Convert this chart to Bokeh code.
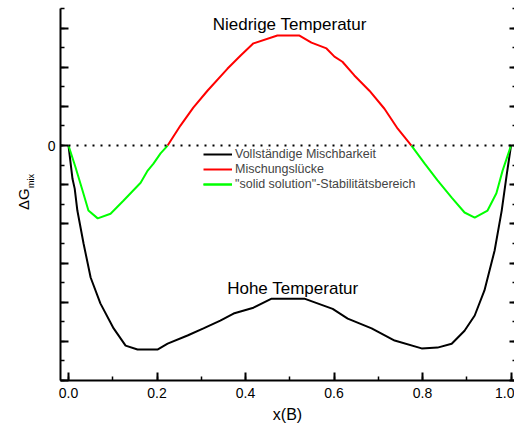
import numpy as np
from bokeh.plotting import figure
from bokeh.layouts import row
from bokeh.models import (Range1d, LinearAxis, FixedTicker, CustomJSTickFormatter,
                          NumeralTickFormatter, Span, Label, Legend, LegendItem, Div)
from bokeh.embed import file_html
from bokeh.resources import INLINE

FONT = "Liberation Sans"

# High temperature: complete miscibility
x_high = [0.000, 0.009, 0.014, 0.020, 0.034, 0.050, 0.072, 0.102, 0.129, 0.156,
          0.201, 0.224, 0.269, 0.305, 0.343, 0.373, 0.418, 0.459, 0.533, 0.597,
          0.631, 0.685, 0.737, 0.798, 0.834, 0.866, 0.895, 0.918, 0.940, 0.963,
          0.979, 0.990, 1.000]
dg_high = [0.00, -0.85, -1.10, -1.66, -2.50, -3.37, -4.03, -4.67, -5.11, -5.21,
           -5.21, -5.06, -4.85, -4.67, -4.47, -4.29, -4.14, -3.91, -3.91, -4.17,
           -4.42, -4.67, -4.98, -5.18, -5.16, -5.06, -4.73, -4.34, -3.70, -2.68,
           -1.66, -0.77, 0.00]

# Low temperature: solid-solution branches (left / right) and miscibility gap
x_ss_left = [0.000, 0.016, 0.032, 0.045, 0.066, 0.095, 0.124, 0.163, 0.179, 0.192,
             0.208, 0.224]
dg_ss_left = [0.00, -0.56, -1.16, -1.66, -1.86, -1.74, -1.41, -0.95, -0.64, -0.46,
              -0.20, 0.00]

x_gap = [0.224, 0.253, 0.282, 0.314, 0.359, 0.389, 0.418, 0.472, 0.522, 0.549,
         0.583, 0.601, 0.619, 0.646, 0.680, 0.714, 0.744, 0.775]
dg_gap = [0.00, 0.51, 0.97, 1.40, 1.96, 2.30, 2.61, 2.81, 2.81, 2.63,
          2.48, 2.27, 2.14, 1.79, 1.40, 0.94, 0.43, 0.00]

x_ss_right = [0.775, 0.805, 0.834, 0.866, 0.895, 0.918, 0.947, 0.967, 0.981, 1.000]
dg_ss_right = [0.00, -0.46, -0.89, -1.33, -1.71, -1.84, -1.66, -1.22, -0.64, 0.00]

x_ticks = [0.0, 0.2, 0.4, 0.6, 0.8, 1.0]
x_minor = [0.0, 0.1, 0.2, 0.3, 0.4, 0.5, 0.6, 0.7, 0.8, 0.9, 1.0]
y_ticks = [-6, -5, -4, -3, -2, -1, 0, 1, 2, 3]
y_minor = list(np.arange(-6.0, 3.51, 0.5))

fig = figure(width=474, height=430, output_backend="svg", toolbar_location=None,
             x_range=Range1d(-0.0181, 1.0079), y_range=Range1d(-6.0, 3.5),
             min_border_left=20, min_border_right=0, min_border_top=8,
             min_border_bottom=50)
fig.grid.visible = False
fig.outline_line_color = None
fig.background_fill_color = "white"
fig.border_fill_color = "white"

def style_axis(ax, standoff):
    ax.axis_line_width = 2
    ax.axis_line_color = "black"
    ax.major_tick_in = 8
    ax.major_tick_out = 0
    ax.minor_tick_in = 4
    ax.minor_tick_out = 0
    ax.major_tick_line_width = 2
    ax.minor_tick_line_width = 1.5
    ax.major_label_standoff = standoff
    ax.major_label_text_font = FONT
    ax.major_label_text_font_size = "14px"
    ax.major_label_text_color = "black"
    ax.axis_label_text_font = FONT
    ax.axis_label_text_font_style = "normal"
    ax.axis_label_text_color = "black"

xa = fig.xaxis[0]
xa.ticker = FixedTicker(ticks=x_ticks, minor_ticks=x_minor)
xa.formatter = NumeralTickFormatter(format="0.0")
style_axis(xa, 7)
xa.axis_label = "x(B)"
xa.axis_label_text_font_size = "16px"
xa.axis_label_standoff = 5

ya = fig.yaxis[0]
ya.ticker = FixedTicker(ticks=y_ticks, minor_ticks=y_minor)
ya.formatter = CustomJSTickFormatter(code="return tick == 0 ? '0' : '';")
style_axis(ya, 5)

ra = LinearAxis(ticker=FixedTicker(ticks=y_ticks, minor_ticks=y_minor),
                formatter=CustomJSTickFormatter(code="return '';"))
style_axis(ra, 0)
ra.axis_line_color = None
ra.major_tick_in = 5
ra.minor_tick_in = 2
fig.add_layout(ra, "right")

# zero reference line
fig.add_layout(Span(location=0, dimension="width", line_color="black",
                    line_width=2, line_dash="2 6"))

r_high = fig.line(x_high, dg_high, line_color="black", line_width=2)
r_gap = fig.line(x_gap, dg_gap, line_color="#ff0000", line_width=2)
r_ss1 = fig.line(x_ss_left, dg_ss_left, line_color="#00ff00", line_width=2)
r_ss2 = fig.line(x_ss_right, dg_ss_right, line_color="#00ff00", line_width=2)

legend = Legend(items=[
    LegendItem(label="Vollständige Mischbarkeit", renderers=[r_high]),
    LegendItem(label="Mischungslücke", renderers=[r_gap]),
    LegendItem(label="\"solid solution\"-Stabilitätsbereich", renderers=[r_ss1, r_ss2]),
], location=(143, 189), padding=0, margin=0, border_line_color=None,
   background_fill_alpha=0, glyph_width=29, glyph_height=14, label_height=14,
   spacing=1, label_standoff=3, label_text_font=FONT, label_text_font_size="12.5px")
fig.add_layout(legend)

fig.add_layout(Label(x=0.5, y=3.10, text="Niedrige Temperatur", text_align="center",
                     text_baseline="alphabetic", text_font=FONT, text_font_size="17px",
                     text_color="black"))
fig.add_layout(Label(x=0.507, y=-3.64, text="Hohe Temperatur", text_align="center",
                     text_baseline="alphabetic", text_font=FONT, text_font_size="17px",
                     text_color="black"))

# vertical y-axis title (ΔG with subscript "mix") in a narrow strip left of the plot
rot = "position:absolute;white-space:nowrap;transform:rotate(-90deg);transform-origin:0 0;"
title_html = (
    f'<div style="position:relative;width:40px;height:430px;font-family:\'{FONT}\';color:black;">'
    f'<span style="{rot}left:16px;top:210px;font-size:15px;line-height:15px;">ΔG</span>'
    f'<span style="{rot}left:27px;top:188px;font-size:9px;line-height:9px;">mix</span>'
    '</div>'
)
ytitle = Div(text=title_html, width=40, height=430, margin=(0, 0, 0, 0))

p = row(ytitle, fig, spacing=0)

open("out.html", "w").write(file_html(p, INLINE))
